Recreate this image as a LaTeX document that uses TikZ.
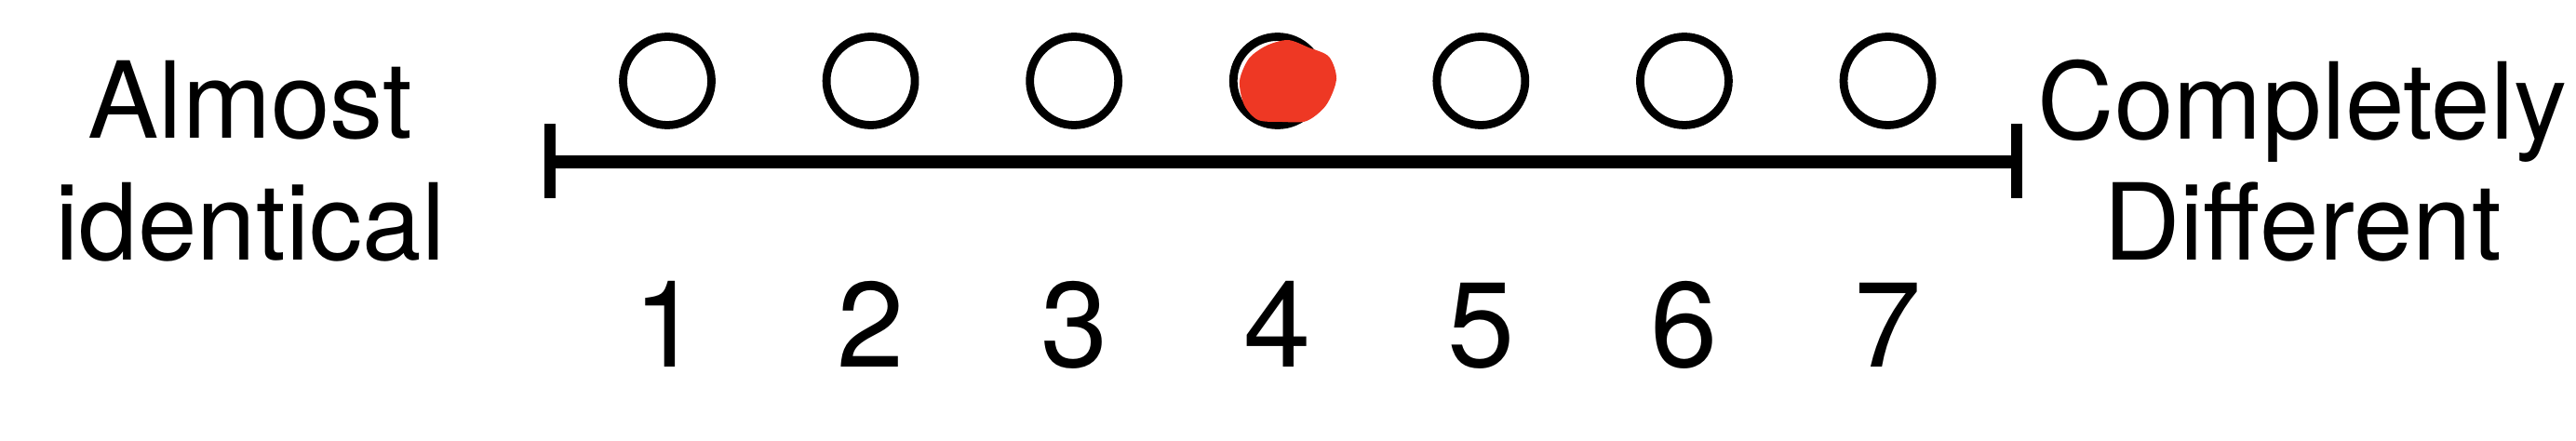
\documentclass[tikz,border=0pt]{standalone}
\usepackage{fontspec}
\setmainfont{TeX Gyre Heros}
\usetikzlibrary{positioning}
\definecolor{pickred}{RGB}{238,56,36}

\begin{document}
\begin{tikzpicture}[
  node distance=0cm and 1.148cm,
  opt/.style={draw,circle,line width=2.5pt,minimum size=0.95cm,inner sep=0pt},
  num/.style={inner sep=0pt,text height=0.92cm,text depth=0pt,font=\fontsize{37}{44}\selectfont},
  lab/.style={inner sep=0pt,align=center,anchor=north,font=\fontsize{32.5}{37}\selectfont}
]
\useasboundingbox (0,0) rectangle (27.68,4.73);
\node[opt] at (7.17,3.86) (O1) {};
\node[opt,right=of O1] (O2) {};
\node[opt,right=of O2] (O3) {};
\node[opt,right=of O3] (O4) {};
\node[opt,right=of O4] (O5) {};
\node[opt,right=of O5] (O6) {};
\node[opt,right=of O6] (O7) {};
% the chosen answer
\fill[pickred] plot[smooth cycle] coordinates {
  (14.36,3.88) (14.28,4.12) (14.06,4.22) (13.84,4.30) (13.61,4.24)
  (13.42,4.10) (13.32,3.86) (13.37,3.60) (13.52,3.44) (13.78,3.42)
  (14.04,3.43) (14.25,3.60)};
\node[num,below=1.625cm of O1] (N1) {1};
\node[num,below=1.625cm of O2] (N2) {2};
\node[num,below=1.625cm of O3] (N3) {3};
\node[num,below=1.625cm of O4] (N4) {4};
\node[num,below=1.625cm of O5] (N5) {5};
\node[num,below=1.625cm of O6] (N6) {6};
\node[num,below=1.625cm of O7] (N7) {7};
\coordinate (TL) at (5.91,2.99);
\coordinate (TR) at (21.67,2.99);
\coordinate (TL1) at (5.91,3.40);
\coordinate (TL2) at (5.91,2.60);
\coordinate (TR1) at (21.67,3.40);
\coordinate (TR2) at (21.67,2.60);
\draw[line width=3.7pt] (TL) -- (TR);
\draw[line width=3.5pt] (TL1) -- (TL2);
\draw[line width=3.5pt] (TR1) -- (TR2);
\node[lab] at (2.69,4.08) (L) {Almost\\identical};
\node[lab] at (24.74,4.10) (R) {Completely\\Different};
\end{tikzpicture}
\end{document}
